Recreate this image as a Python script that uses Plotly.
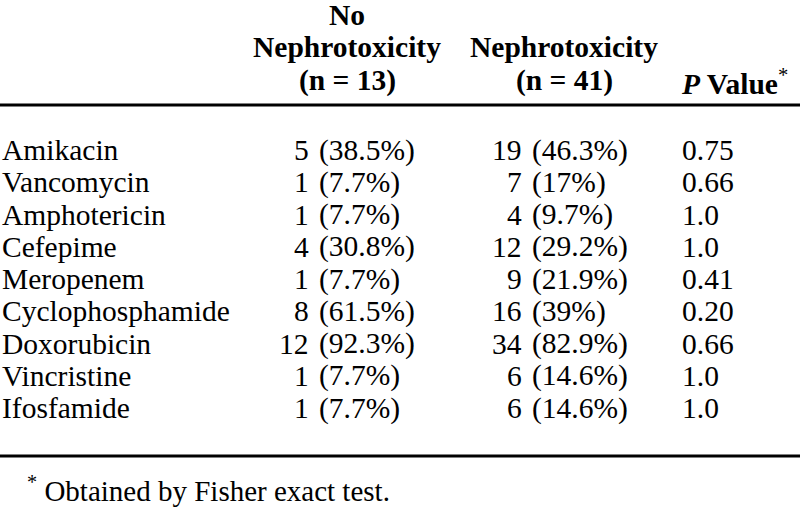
import plotly.graph_objects as go

drugs = ["Amikacin", "Vancomycin", "Amphotericin", "Cefepime", "Meropenem",
         "Cyclophosphamide", "Doxorubicin", "Vincristine", "Ifosfamide"]
no_counts = [5, 1, 1, 4, 1, 8, 12, 1, 1]
no_pct = ["38.5", "7.7", "7.7", "30.8", "7.7", "61.5", "92.3", "7.7", "7.7"]
yes_counts = [19, 7, 4, 12, 9, 16, 34, 6, 6]
yes_pct = ["46.3", "17", "9.7", "29.2", "21.9", "39", "82.9", "14.6", "14.6"]
p_values = ["0.75", "0.66", "1.0", "1.0", "0.41", "0.20", "0.66", "1.0", "1.0"]

header_no = ["No", "Nephrotoxicity", "(n = 13)"]
header_yes = ["Nephrotoxicity", "(n = 41)"]
footnote = "Obtained by Fisher exact test."

FONT = "Liberation Serif, Times New Roman, serif"
SIZE = 29.5
W, H = 800, 511

fig = go.Figure()
ann = []

def add(text, x, y, xanchor="left", size=SIZE):
    ann.append(dict(text=text, x=x, y=y, xref="x", yref="y", xanchor=xanchor,
                    yanchor="middle", showarrow=False,
                    font=dict(family=FONT, size=size, color="black")))

# header
hy = [15, 47, 80]
for t, y in zip(header_no, hy):
    add("<b>" + t + "</b>", 347, y, "center", 29.5)
for t, y in zip(header_yes, hy[1:]):
    add("<b>" + t + "</b>", 564, y, "center", 29.5)
add("<b><i>P</i> Value</b><sup>*</sup>", 679, 82, "left", 29.5)

row0, step = 150, 32.25
for i, d in enumerate(drugs):
    y = row0 + i * step
    add(d, 0, y, "left")
    add(str(no_counts[i]), 311, y, "right")
    add("(" + no_pct[i] + "%)", 317, y, "left")
    add(str(yes_counts[i]), 524, y, "right")
    add("(" + yes_pct[i] + "%)", 530, y, "left")
    add(p_values[i], 680, y, "left")

add("<sup>*</sup> " + footnote, 25, 489, "left", size=29)

shapes = [
    dict(type="line", xref="x", yref="y", x0=0, x1=W, y0=105, y1=105,
         line=dict(color="black", width=3)),
    dict(type="line", xref="x", yref="y", x0=0, x1=W, y0=456, y1=456,
         line=dict(color="black", width=3)),
]

fig.update_layout(
    width=W, height=H, margin=dict(l=0, r=0, t=0, b=0),
    paper_bgcolor="white", plot_bgcolor="white",
    xaxis=dict(range=[0, W], visible=False, fixedrange=True),
    yaxis=dict(range=[H, 0], visible=False, fixedrange=True),
    annotations=ann, shapes=shapes, showlegend=False,
)
fig.write_html("out.html", config={"displayModeBar": False})

with open("out.html", "r", encoding="utf-8") as f:
    html = f.read()
html = html.replace("<body>", '<body style="margin:0;overflow:hidden">', 1)
with open("out.html", "w", encoding="utf-8") as f:
    f.write(html)
